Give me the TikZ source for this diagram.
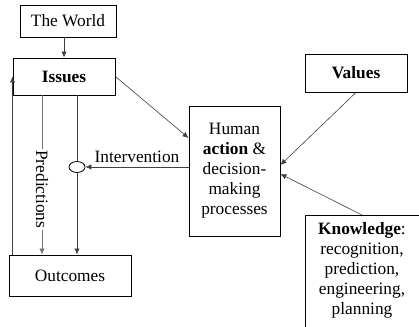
\documentclass[tikz,border=0pt]{standalone}
\usepackage{fontspec}
\setmainfont{Liberation Serif}
\usetikzlibrary{arrows.meta,shapes.geometric}
\tikzset{>={Latex[length=4.5pt,width=4pt]}}
\tikzstyle{block}=[draw, line width=0.7, align=center, inner sep=2pt]
\tikzstyle{link}=[->, line width=0.45, black!75]

\begin{document}
\begin{tikzpicture}[x=0.75pt, y=-0.75pt, font=\fontsize{13}{15}\selectfont]
	\useasboundingbox (0,0) rectangle (419,327);
	
	% Boxes
	\node[block, minimum width=72pt, minimum height=24pt] (world) at (68,21) {The World};
	\node[block, minimum width=76.5pt, minimum height=27.75pt] (issues) at (64,76.5) {\textbf{Issues}};
	\node[block, minimum width=91.5pt, minimum height=30.75pt] (outcomes) at (70,275.5) {Outcomes};
	\node[block, minimum width=68.25pt, minimum height=97.5pt] (human) at (234.5,171) {Human\\ \textbf{action} \&\\ decision-\\ making\\ processes};
	\node[block, minimum width=76.5pt, minimum height=28.5pt] (values) at (356,73) {\textbf{Values}};
	\node[block, anchor=north, minimum width=85.5pt, minimum height=86pt, text depth=6pt] (knowledge) at (362,215) {\textbf{Knowledge}:\\ recognition,\\ prediction,\\ engineering,\\ planning};
	
	% Switch on the intervention line
	\node[draw, ellipse, line width=0.6, minimum width=12pt, minimum height=8.25pt, inner sep=0pt] (switch) at (77,167) {};
	
	% Arrows
	\draw[link] (world.south -| issues.north) -- (issues.north);
	\draw[link] (issues.east) -- (human.west |- 0,138);
	\draw[link] (values.south) -- (human.east |- 0,165);
	\draw[link] (knowledge.north) -- (human.east |- 0,174);
	\draw[link] (human.west |- switch.east) -- node[above, text=black] {Intervention} (switch.east);
	\draw[line width=0.45, black!75] (issues.south -| switch.north) -- (switch.north);
	\draw[link] (switch.south) -- (switch.south |- outcomes.north);
	\draw[link, black!55] (issues.south -| 42,0) -- node[pos=0.59, rotate=-90, fill=white, inner sep=1pt, text=black] {Predictions} (outcomes.north -| 42,0);
	\draw[link] (issues.west |- outcomes.north) -- (issues.west);
\end{tikzpicture}
\end{document}
